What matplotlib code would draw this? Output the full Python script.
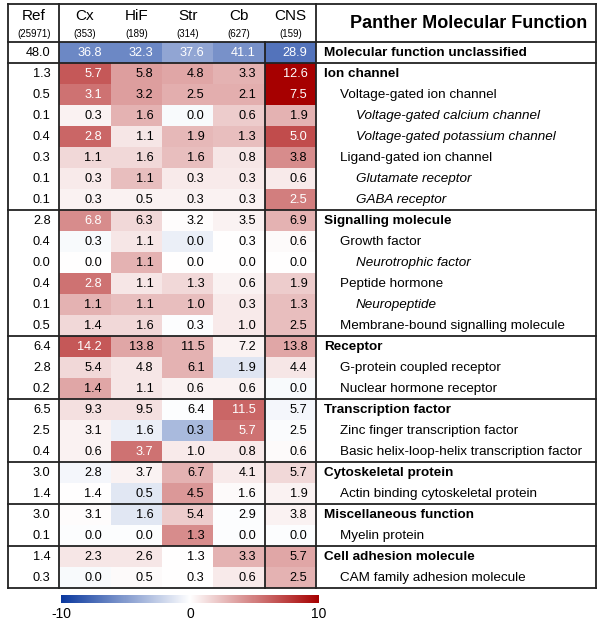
import numpy as np
import matplotlib
matplotlib.use("Agg")
import matplotlib.pyplot as plt
from matplotlib.colors import LinearSegmentedColormap

plt.rcParams['font.family'] = ['Liberation Sans', 'DejaVu Sans']
plt.rcParams['axes.unicode_minus'] = False

columns = ['Ref', 'Cx', 'HiF', 'Str', 'Cb', 'CNS']
counts = ['(25971)', '(353)', '(189)', '(314)', '(627)', '(159)']

labels = ['Molecular function unclassified', 'Ion channel', 'Voltage-gated ion channel',
          'Voltage-gated calcium channel', 'Voltage-gated potassium channel',
          'Ligand-gated ion channel', 'Glutamate receptor', 'GABA receptor',
          'Signalling molecule', 'Growth factor', 'Neurotrophic factor', 'Peptide hormone',
          'Neuropeptide', 'Membrane-bound signalling molecule', 'Receptor',
          'G-protein coupled receptor', 'Nuclear hormone receptor', 'Transcription factor',
          'Zinc finger transcription factor', 'Basic helix-loop-helix transcription factor',
          'Cytoskeletal protein', 'Actin binding cytoskeletal protein',
          'Miscellaneous function', 'Myelin protein', 'Cell adhesion molecule',
          'CAM family adhesion molecule']
# 0 = category (bold), 1 = subcategory, 2 = sub-subcategory (italic)
levels = [0, 0, 1, 2, 2, 1, 2, 2, 0, 1, 2, 1, 2, 1, 0, 1, 1, 0, 1, 1, 0, 1, 0, 1, 0, 1]

ref = [48.0, 1.3, 0.5, 0.1, 0.4, 0.3, 0.1, 0.1, 2.8, 0.4, 0.0, 0.4, 0.1, 0.5, 6.4, 2.8, 0.2,
       6.5, 2.5, 0.4, 3.0, 1.4, 3.0, 0.1, 1.4, 0.3]
cx = [36.8, 5.7, 3.1, 0.3, 2.8, 1.1, 0.3, 0.3, 6.8, 0.3, 0.0, 2.8, 1.1, 1.4, 14.2, 5.4, 1.4,
      9.3, 3.1, 0.6, 2.8, 1.4, 3.1, 0.0, 2.3, 0.0]
hif = [32.3, 5.8, 3.2, 1.6, 1.1, 1.6, 1.1, 0.5, 6.3, 1.1, 1.1, 1.1, 1.1, 1.6, 13.8, 4.8, 1.1,
       9.5, 1.6, 3.7, 3.7, 0.5, 1.6, 0.0, 2.6, 0.5]
stri = [37.6, 4.8, 2.5, 0.0, 1.9, 1.6, 0.3, 0.3, 3.2, 0.0, 0.0, 1.3, 1.0, 0.3, 11.5, 6.1, 0.6,
        6.4, 0.3, 1.0, 6.7, 4.5, 5.4, 1.3, 1.3, 0.3]
cb = [41.1, 3.3, 2.1, 0.6, 1.3, 0.8, 0.3, 0.3, 3.5, 0.3, 0.0, 0.6, 0.3, 1.0, 7.2, 1.9, 0.6,
      11.5, 5.7, 0.8, 4.1, 1.6, 2.9, 0.0, 3.3, 0.6]
cns = [28.9, 12.6, 7.5, 1.9, 5.0, 3.8, 0.6, 2.5, 6.9, 0.6, 0.0, 1.9, 1.3, 2.5, 13.8, 4.4, 0.0,
       5.7, 2.5, 0.6, 5.7, 1.9, 3.8, 0.0, 5.7, 2.5]

# enrichment scores (colour)
score_cx = [-6, 6.5, 5.5, 0.5, 6, 1.5, 0.8, 0.5, 4.5, -0.3, 0, 5.5, 3, 1.5, 6.5, 1.5, 3.5,
            1.2, 0.5, 0.5, -0.4, 0, 0.1, -0.1, 1, -0.3]
score_hif = [-6, 3.8, 3.8, 3, 1, 1.5, 2.5, 0.5, 1.5, 1, 3, 1, 2.5, 1.5, 3.5, 1, 1,
             1.2, -0.8, 5.5, 0.5, -1.2, -1.2, -0.1, 1, 0.2]
score_str = [-4.5, 3.5, 3.2, -0.3, 2.8, 2.5, 0.8, 0.5, 0.1, -0.8, 0, 1.5, 2.5, -0.1, 3, 3, 0.5,
             -0.1, -3.5, 0.8, 3, 4, 2, 4.5, 0, 0]
score_cb = [-5.5, 3, 3.2, 2, 2.5, 1, 0.8, 0.5, 0.5, 0, 0, 0.5, 0.8, 0.8, 0.5, -1.3, 0.5,
            6, 5.5, 0.8, 0.8, 0.2, -0.1, -0.1, 3, 0.8]
score_cns = [-7, 10, 10, 3, 7, 4.5, 0.8, 5, 3, 0.2, 0, 2, 2.5, 2.5, 3.5, 1, -0.3,
             -0.4, -0.2, 0.2, 1.5, 0.5, 0.5, -0.1, 3.5, 3]

# significant cells (row, column) shown with white text
significant = [(0, 1), (0, 2), (0, 3), (0, 4), (0, 5), (1, 1), (1, 5), (2, 1), (2, 5),
               (4, 1), (4, 5), (7, 5), (8, 1), (11, 1), (14, 1), (17, 4), (18, 4), (19, 2)]

values = np.array([ref, cx, hif, stri, cb, cns]).T
scores = np.array([score_cx, score_hif, score_str, score_cb, score_cns]).T
nrows = len(labels)
group_starts = [i for i, l in enumerate(levels) if l == 0]

cmap = LinearSegmentedColormap.from_list('bwr_pub', ['#0a389e', '#ffffff', '#a60000'])

fig = plt.figure(figsize=(6, 6.2), dpi=100)
# table spans pixels x 8..596, y 4..588
ax = fig.add_axes([8 / 600, 1 - 588 / 620, 588 / 600, 584 / 620])
label_w = 280 / (308 / 6)
hdr = 38 / 21
ax.set_xlim(0, 6 + label_w)
ax.set_ylim(nrows, -hdr)
ax.axis('off')

mesh = ax.pcolormesh(np.arange(1, 7), np.arange(nrows + 1), scores,
                     cmap=cmap, vmin=-10, vmax=10)

for i in range(nrows):
    for j in range(6):
        col = 'white' if (i, j) in significant else 'black'
        ax.text(j + 0.83, i + 0.52, f'{values[i, j]:.1f}', ha='right', va='center',
                fontsize=9.2, color=col)
    lev = levels[i]
    ax.text(6 + 0.16 + lev * 0.31, i + 0.52, labels[i], ha='left', va='center',
            fontsize=9.7, fontweight='bold' if lev == 0 else 'normal',
            style='italic' if lev == 2 else 'normal')

for j in range(6):
    ax.text(j + 0.5, -hdr + 0.55, columns[j], ha='center', va='center', fontsize=11)
    ax.text(j + 0.5, -hdr + 1.42, counts[j], ha='center', va='center', fontsize=7)
ax.text(6 + label_w - 0.17, -hdr / 2, 'Panther Molecular Function', ha='right',
        va='center', fontsize=13, fontweight='bold')

lc = '#222222'
lw = 1.3
xmax = 6 + label_w
ax.plot([0, xmax], [-hdr, -hdr], color=lc, lw=lw, clip_on=False)
for g in group_starts + [nrows]:
    ax.plot([0, xmax], [g, g], color=lc, lw=lw, clip_on=False)
for x in [0, 1, 6, xmax]:
    ax.plot([x, x], [-hdr, nrows], color=lc, lw=lw, clip_on=False)
ax.plot([5, 5], [0, nrows], color=lc, lw=lw, clip_on=False)

cax = fig.add_axes([61 / 600, 1 - 603 / 620, 258 / 600, 8 / 620])
cb_ = fig.colorbar(mesh, cax=cax, orientation='horizontal', ticks=[-10, 0, 10])
cb_.outline.set_visible(False)
cax.tick_params(length=0, labelsize=10, pad=3)
cax.set_xticklabels(['-10', '0', '10'])

fig.savefig('out.png', dpi=100)
